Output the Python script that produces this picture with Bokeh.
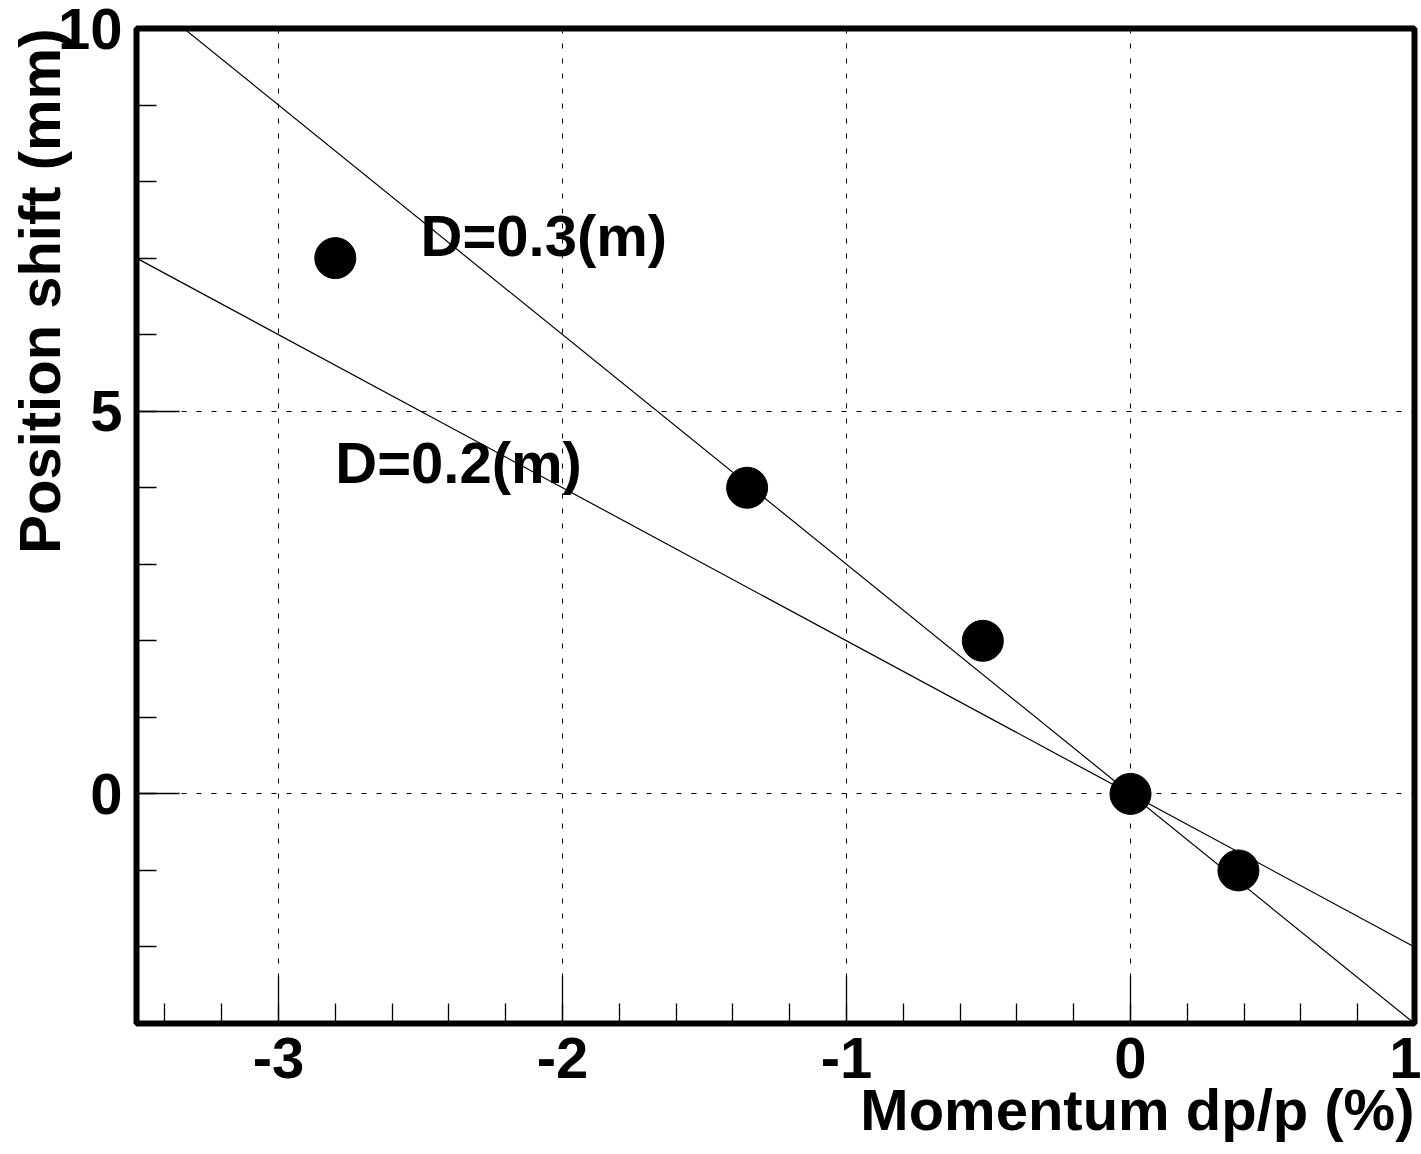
from bokeh.embed import file_html
from bokeh.models import Label, Range1d, SingleIntervalTicker, Title
from bokeh.plotting import figure
from bokeh.resources import INLINE

# measured beam position shift versus momentum deviation
dp_p = [-2.8, -1.35, -0.52, 0.0, 0.38]
shift_mm = [7.0, 4.0, 2.0, 0.0, -1.0]

# dispersion of the two reference lines (m) and their captions
dispersion_m = [0.3, 0.2]
line_captions = ["D=0.3(m)", "D=0.2(m)"]

# axis tick labels
x_ticks = [-3, -2, -1, 0, 1]
x_tick_labels = ["-3", "-2", "-1", "0", "1"]
y_ticks = [0, 5, 10]
y_tick_labels = ["0", "5", "10"]

X_MIN, X_MAX = -3.5, 1.0
Y_MIN, Y_MAX = -3.0, 10.0

FONT = "Liberation Sans"
FSIZE = "58px"

p = figure(
    width=1421, height=1154,
    min_border_left=136, min_border_right=7,
    min_border_top=28, min_border_bottom=131,
    x_range=Range1d(X_MIN, X_MAX), y_range=Range1d(Y_MIN, Y_MAX),
    output_backend="svg", toolbar_location=None,
    background_fill_color="white", border_fill_color="white",
)

p.outline_line_color = "black"
p.outline_line_width = 6

# axes: ticks drawn inward, no separate axis line (the frame is the box)
x_ticker = SingleIntervalTicker(interval=1, num_minor_ticks=5)
y_ticker = SingleIntervalTicker(interval=5, num_minor_ticks=5)
p.xaxis.ticker = x_ticker
p.yaxis.ticker = y_ticker
p.xaxis.major_label_overrides = {t: s for t, s in zip(x_ticks, x_tick_labels)}
p.yaxis.major_label_overrides = {t: s for t, s in zip(y_ticks, y_tick_labels)}

for ax in (p.xaxis[0], p.yaxis[0]):
    ax.axis_line_color = None
    ax.major_tick_line_color = "black"
    ax.minor_tick_line_color = "black"
    ax.major_tick_line_width = 1.3
    ax.minor_tick_line_width = 1.3
    ax.major_tick_out = 0
    ax.minor_tick_out = 0
    ax.minor_tick_in = 20
    ax.major_label_text_font = FONT
    ax.major_label_text_font_style = "bold"
    ax.major_label_text_font_size = FSIZE
    ax.major_label_text_color = "black"

p.xaxis.major_tick_in = 47
p.yaxis.major_tick_in = 43
p.xaxis.major_label_standoff = 14
p.yaxis.major_label_standoff = 14

# dotted grid at the major ticks
p.xgrid.ticker = x_ticker
p.ygrid.ticker = y_ticker
p.xgrid.bounds = (X_MIN, X_MAX)
p.ygrid.bounds = (Y_MIN, Y_MAX)
for g in (p.xgrid[0], p.ygrid[0]):
    g.grid_line_color = "black"
    g.grid_line_width = 1
    g.grid_line_dash = "5 10"

# axis titles, flush with the right end of x and the top end of y
p.add_layout(Title(
    text="Momentum dp/p (%)", align="right", vertical_align="top",
    standoff=-8, text_font=FONT, text_font_style="bold",
    text_font_size=FSIZE, text_color="black",
), "below")
p.add_layout(Title(
    text="Position shift (mm)", align="right", vertical_align="bottom",
    standoff=-34, text_font=FONT, text_font_style="bold",
    text_font_size=FSIZE, text_color="black",
), "left")

# reference lines: shift = -D * dp/p, with D in m, dp/p in %, shift in mm
for d in dispersion_m:
    xs = [X_MIN, X_MAX]
    ys = [-d * 1000.0 * x / 100.0 for x in xs]
    p.line(xs, ys, line_color="black", line_width=1.2)

p.scatter(dp_p, shift_mm, size=41, fill_color="black", line_color="black")

caption_anchor = [(-2.5, 7.29), (-2.8, 4.33)]
for text, (cx, cy) in zip(line_captions, caption_anchor):
    p.add_layout(Label(
        x=cx, y=cy, text=text,
        text_align="left", text_baseline="alphabetic",
        text_font=FONT, text_font_style="bold",
        text_font_size=FSIZE, text_color="black",
    ))

open("out.html", "w").write(file_html(p, INLINE))
